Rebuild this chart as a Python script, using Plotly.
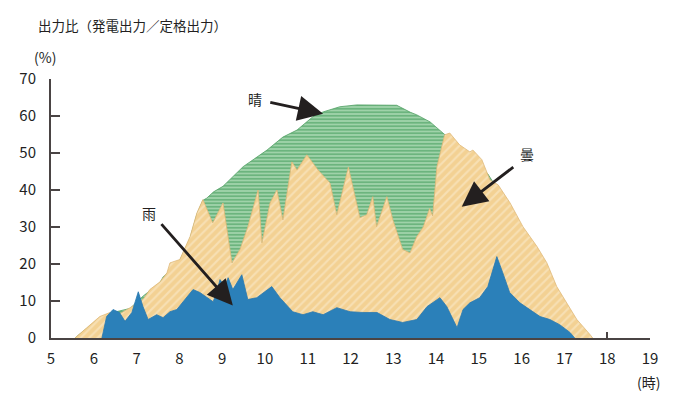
import plotly.graph_objects as go

# ---- data (hour of day, output ratio %) ----
sunny_x = [5.56, 6.14, 6.38, 6.85, 7.15, 7.31, 7.55, 7.62, 7.71, 8.01, 8.25, 8.41, 8.55, 8.64, 8.8,
           9.02, 9.49, 10.05, 10.42, 10.75, 11.12, 11.36, 11.75, 12.15, 12.62, 13.08, 13.4, 13.55,
           13.86, 14.16, 14.5, 14.8, 15.2, 15.45, 15.73, 16.03, 16.36, 16.59, 16.82, 17.06, 17.29,
           17.6, 17.65]
sunny_y = [0, 5.5, 6.7, 8.0, 11.3, 12.8, 15.0, 16.5, 17.4, 21.0, 27.0, 33.5, 37.2, 37.8, 39.5,
           41.0, 46.3, 50.8, 54.3, 56.2, 59.8, 61.1, 62.5, 63.0, 63.0, 62.9, 61.0, 60.3,
           58.4, 55.4, 52.0, 49.0, 44.5, 40.0, 35.5, 29.0, 23.5, 19.0, 13.0, 8.5, 4.5,
           0.5, 0]

cloudy_x = [5.56, 6.14, 6.38, 6.6, 6.85, 7.15, 7.31, 7.55, 7.71, 7.78, 8.01, 8.25, 8.41, 8.55,
            8.78, 9.02, 9.23, 9.42, 9.6, 9.84, 9.93, 10.12, 10.28, 10.42, 10.63, 10.75, 10.98,
            11.24, 11.52, 11.68, 11.95, 12.22, 12.38, 12.52, 12.61, 12.85, 12.99, 13.22, 13.39,
            13.55, 13.7, 13.85, 13.92, 14.02, 14.2, 14.32, 14.55, 14.79, 14.86, 15.07, 15.26,
            15.45, 15.73, 16.03, 16.36, 16.59, 16.82, 17.06, 17.29, 17.6, 17.66]
cloudy_y = [0, 5.8, 6.9, 6.5, 8.2, 10.4, 13.1, 15.2, 17.6, 20.3, 21.2, 27.4, 33.8, 37.4,
            31.1, 36.5, 20.3, 24.0, 30.0, 40.0, 25.7, 36.5, 40.0, 31.9, 47.6, 45.4, 49.5,
            45.4, 41.9, 33.3, 46.2, 32.5, 33.3, 38.2, 30.1, 38.2, 31.9, 23.9, 23.0,
            27.4, 30.0, 35.0, 33.0, 46.3, 54.9, 55.4, 52.2, 50.3, 50.8, 48.2, 42.7,
            41.4, 36.5, 30.1, 24.7, 20.3, 13.9, 9.5, 5.0, 0.9, 0]

rain_x = [6.19, 6.3, 6.45, 6.6, 6.73, 6.89, 7.04, 7.15, 7.27, 7.47, 7.62, 7.78, 7.94, 8.13,
          8.32, 8.48, 8.79, 8.87, 8.95, 9.06, 9.14, 9.25, 9.46, 9.6, 9.81, 10.16, 10.35, 10.65,
          10.89, 11.12, 11.36, 11.68, 11.99, 12.29, 12.62, 12.92, 13.22, 13.55, 13.79, 14.09,
          14.25, 14.49, 14.63, 14.79, 15.02, 15.21, 15.42, 15.56, 15.72, 15.96, 16.19, 16.43,
          16.66, 16.89, 17.13, 17.24]
rain_y = [0, 5.8, 7.7, 6.9, 4.5, 6.9, 12.5, 8.5, 5.0, 6.3, 5.5, 7.1, 7.7, 10.4,
          13.1, 12.3, 9.8, 12.3, 15.8, 13.9, 16.3, 13.1, 17.1, 10.4, 10.9, 13.9, 10.9, 7.1,
          6.3, 7.1, 6.3, 8.2, 7.1, 6.9, 6.9, 5.0, 4.2, 5.0, 8.5, 10.9,
          8.5, 2.8, 7.7, 9.5, 10.9, 13.9, 22.0, 17.6, 12.3, 9.5, 7.7, 5.8,
          5.0, 3.6, 1.5, 0]

x_ticks = list(range(5, 20))
y_ticks = [0, 10, 20, 30, 40, 50, 60, 70]

FONT = "Noto Sans CJK JP, Noto Sans, sans-serif"
AX = "#4a4444"
TXT = "#231f1f"

fig = go.Figure()
fig.add_trace(go.Scatter(
    x=sunny_x, y=sunny_y, mode="lines", fill="tozeroy",
    line=dict(color="#4f9f62", width=0.8),
    fillcolor="#7cbf8a",
    fillpattern=dict(shape="-", bgcolor="#9fd2a9", fgcolor="#3a9654", size=3.5, solidity=0.5),
    hoverinfo="skip", showlegend=False))
fig.add_trace(go.Scatter(
    x=cloudy_x, y=cloudy_y, mode="lines", fill="tozeroy",
    line=dict(color="#e0b978", width=0.8),
    fillcolor="#f4d69c",
    fillpattern=dict(shape="/", bgcolor="#f3d193", fgcolor="#fcefd6", size=6, solidity=0.35),
    hoverinfo="skip", showlegend=False))
fig.add_trace(go.Scatter(
    x=rain_x, y=rain_y, mode="lines", fill="tozeroy",
    line=dict(color="#2a78b0", width=0.8),
    fillcolor="#2b80b9",
    hoverinfo="skip", showlegend=False))

def arrow(tx, ty, hx, hy):
    return dict(x=hx, y=hy, ax=tx, ay=ty, xref="x", yref="y", axref="x", ayref="y",
                text="", showarrow=True, arrowhead=2, arrowsize=1.8, arrowwidth=2.8,
                arrowcolor=TXT, standoff=0, startstandoff=0)

ann = [
    dict(x=9.77, y=64.5, text="晴", showarrow=False, xref="x", yref="y",
         font=dict(family=FONT, size=14, color=TXT)),
    arrow(10.09, 63.8, 11.36, 60.6),
    dict(x=16.12, y=49.7, text="曇", showarrow=False, xref="x", yref="y",
         font=dict(family=FONT, size=14, color=TXT)),
    arrow(15.84, 46.5, 14.6, 35.5),
    dict(x=7.29, y=33.9, text="雨", showarrow=False, xref="x", yref="y",
         font=dict(family=FONT, size=14, color=TXT)),
    arrow(7.55, 31.2, 9.25, 8.8),
    dict(x=-0.025, y=1.208, xref="paper", yref="paper", xanchor="left", yanchor="middle",
         text="出力比（発電出力／定格出力）", showarrow=False,
         font=dict(family=FONT, size=13.5, color=TXT)),
    dict(x=-0.032, y=1.085, xref="paper", yref="paper", xanchor="left", yanchor="middle",
         text="(%)", showarrow=False, font=dict(family=FONT, size=14, color=TXT)),
    dict(x=0.998, y=-0.171, xref="paper", yref="paper", xanchor="center", yanchor="middle",
         text="(時)", showarrow=False, font=dict(family=FONT, size=14, color=TXT)),
]

fig.update_layout(
    width=680, height=411,
    margin=dict(l=51, r=30, t=79, b=72.5),
    paper_bgcolor="white", plot_bgcolor="white",
    font=dict(family=FONT, size=15, color=TXT),
    annotations=ann,
    xaxis=dict(range=[5, 19], tickvals=x_ticks, ticktext=[str(v) for v in x_ticks],
               showgrid=False, zeroline=False, showline=True, linecolor=AX, linewidth=2,
               ticks="", ticklabelstandoff=6,
               minor=dict(tickvals=[18], ticks="inside", ticklen=6, tickwidth=2, tickcolor=AX),
               tickfont=dict(family=FONT, size=15, color=TXT)),
    yaxis=dict(range=[0, 70], tickvals=y_ticks, showgrid=False, zeroline=False,
               showline=True, linecolor=AX, linewidth=2,
               ticks="inside", ticklen=9, tickwidth=2, tickcolor=AX, ticklabelstandoff=10,
               tickfont=dict(family=FONT, size=15, color=TXT)),
)

fig.write_html("out.html")
